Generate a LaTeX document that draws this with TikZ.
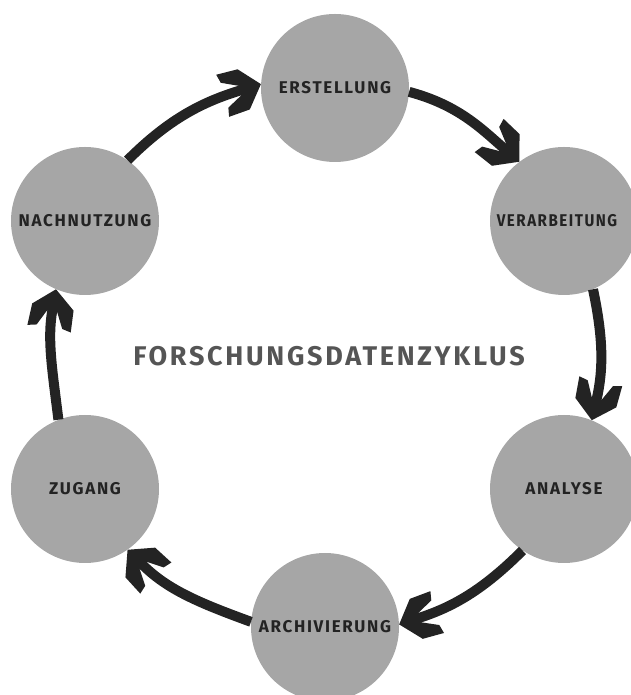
\documentclass[tikz,border=0pt]{standalone}
\usepackage{graphicx}
\usepackage{fontspec}
\newfontfamily\phasefont[LetterSpace=10]{Fira Sans}
\newfontfamily\cyclefont[LetterSpace=10]{Fira Sans}
\usetikzlibrary{arrows.meta}
\definecolor{phasegray}{HTML}{A6A6A6}
\definecolor{darkink}{HTML}{232323}
\definecolor{titlegray}{HTML}{555555}
\pgfdeclarearrow{
    name=Chevron,
    setup code={
        \pgfarrowssettipend{0pt}
        \pgfarrowssetbackend{-40pt}
        \pgfarrowssetlineend{-21pt}
        \pgfarrowssetvisualbackend{-22pt}
        \pgfarrowsupperhullpoint{-40pt}{22pt}
        \pgfarrowsupperhullpoint{0pt}{0pt}
    },
    drawing code={
        \pgfpathmoveto{\pgfqpoint{0pt}{0pt}}
        \pgfpathlineto{\pgfqpoint{-18pt}{21pt}}
        \pgfpathlineto{\pgfqpoint{-40pt}{22pt}}
        \pgfpathlineto{\pgfqpoint{-38pt}{13pt}}
        \pgfpathlineto{\pgfqpoint{-22pt}{5pt}}
        \pgfpathlineto{\pgfqpoint{-22pt}{-5pt}}
        \pgfpathlineto{\pgfqpoint{-38pt}{-13pt}}
        \pgfpathlineto{\pgfqpoint{-40pt}{-22pt}}
        \pgfpathlineto{\pgfqpoint{-18pt}{-21pt}}
        \pgfpathclose
        \pgfusepathqfill
    }
}
\tikzset{
    phase/.style={circle, fill=phasegray, inner sep=0pt, minimum size=148pt,
        text=darkink, font=\phasefont\bfseries\fontsize{17}{19}\selectfont},
    cycle/.style={text=titlegray, font=\cyclefont\bfseries\fontsize{27}{30}\selectfont},
    flow/.style={color=darkink, line width=10pt, -Chevron},
}

\begin{document}
\begin{tikzpicture}[x=1pt, y=1pt]
    \useasboundingbox (0,0) rectangle (630,695);
    \node[phase] (E) at (335,607) {ERSTELLUNG};
    \node[phase] (V) at (564,474) {\hspace*{-14pt}\scalebox{0.89}[1]{VERARBEITUNG}};
    \node[phase] (A) at (564,206) {ANALYSE};
    \node[phase] (R) at (325,68) {ARCHIVIERUNG};
    \node[phase] (Z) at (85,206) {ZUGANG};
    \node[phase] (N) at (85,474) {NACHNUTZUNG};
    \node[cycle] (C) at (329,339) {FORSCHUNGSDATENZYKLUS};
    \draw[flow] (E.-3) to[out=-15, in=139] (V.127);
    \draw[flow] (V.-67) to[out=-78, in=77] (A.68);
    \draw[flow] (A.-124) to[out=-135, in=18] (R.2);
    \draw[flow] (R.176) to[out=160, in=-45] (Z.-55);
    \draw[flow] (Z.111) to[out=97, in=-100] (N.-113);
    \draw[flow] (N.55) to[out=45, in=197] (E.177);

\end{tikzpicture}
\end{document}
